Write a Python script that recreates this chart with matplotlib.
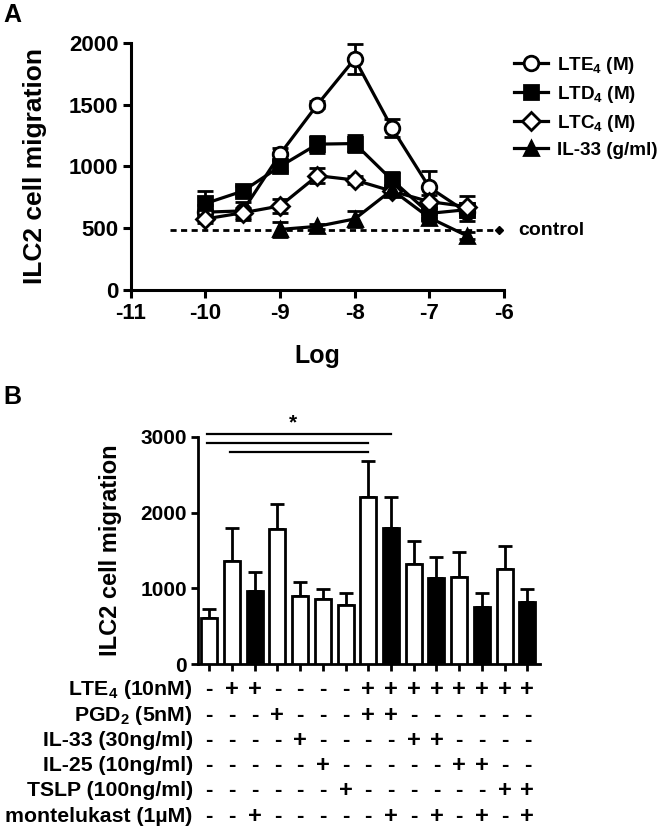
import matplotlib
matplotlib.use("Agg")
import matplotlib.pyplot as plt
import matplotlib.transforms as mtransforms
from matplotlib.lines import Line2D
import numpy as np

plt.rcParams['font.family'] = ['Liberation Sans', 'DejaVu Sans']
plt.rcParams['font.weight'] = 'bold'
plt.rcParams['mathtext.fontset'] = 'custom'
plt.rcParams['mathtext.rm'] = 'Liberation Sans:bold'
plt.rcParams['mathtext.it'] = 'Liberation Sans:bold'
plt.rcParams['mathtext.bf'] = 'Liberation Sans:bold'

# ---- panel A: dose response ----
log_conc = [-10, -9.5, -9, -8.5, -8, -7.5, -7, -6.5]
lte4_mean = [630, 640, 1100, 1500, 1870, 1310, 830, 630]
lte4_sem = [60, 75, 50, 30, 120, 75, 135, 70]
ltd4_mean = [700, 800, 1000, 1180, 1185, 890, 620, 650]
ltd4_sem = [100, 40, 40, 70, 70, 65, 40, 40]
ltc4_mean = [575, 625, 680, 925, 890, 800, 715, 675]
ltc4_sem = [30, 40, 55, 60, 30, 40, 50, 85]
il33_conc = [-9, -8.5, -8, -7.5, -7, -6.5]
il33_mean = [490, 515, 575, 810, 585, 440]
il33_sem = [60, 20, 65, 40, 30, 30]
control_level = 485
control_span = [-10.48, -6.06]

# ---- panel B: bars + condition table ----
bar_mean = [606, 1361, 970, 1783, 900, 856, 777, 2204, 1792, 1318, 1141, 1154, 759, 1260, 817]
bar_sem = [127, 439, 242, 325, 180, 140, 158, 479, 408, 310, 269, 322, 184, 299, 179]
row_labels = ['LTE$_4$ (10nM)', 'PGD$_2$ (5nM)', 'IL-33 (30ng/ml)',
              'IL-25 (10ng/ml)', 'TSLP (100ng/ml)', 'montelukast (1µM)']
row_signs = ['-++----++++++++',
             '---+---++------',
             '----+----++----',
             '-----+-----++--',
             '------+------++',
             '--+-----+-+-+-+']
sig_pairs = [(0, 8), (0, 7), (1, 7)]
sig_heights = [3030, 2920, 2800]

fig = plt.figure(figsize=(6.64, 8.31), dpi=100)

# panel A
axA = fig.add_axes([0.197, 0.651, 0.562, 0.2975])
series = [
    (log_conc, lte4_mean, lte4_sem, 'o', 'white', 10.5, r'LTE$_4$ (M)'),
    (log_conc, ltd4_mean, ltd4_sem, 's', 'black', 9.5, r'LTD$_4$ (M)'),
    (log_conc, ltc4_mean, ltc4_sem, 'D', 'white', 9.5, r'LTC$_4$ (M)'),
    (il33_conc, il33_mean, il33_sem, '^', 'black', 10.5, 'IL-33 (g/ml)'),
]
handles = []
for i, (x, y, e, m, fc, ms, lab) in enumerate(series):
    axA.errorbar(x, y, yerr=e, fmt='none', ecolor='black', elinewidth=2,
                 capsize=5.5, capthick=2, zorder=2 + i)
    axA.plot(x, y, color='black', lw=2.3, marker=m, ms=ms, mfc=fc,
             mec='black', mew=2, zorder=3 + i)
    handles.append(Line2D([], [], color='black', lw=2.3, marker=m, ms=ms,
                          mfc=fc, mec='black', mew=2, label=lab))

axA.plot(control_span, [control_level, control_level], color='black', lw=2,
         ls=(0, (2.2, 1.6)), zorder=1, clip_on=False)
axA.plot([control_span[1]], [control_level], marker='D', color='black', ms=4,
         clip_on=False)
axA.text(control_span[1] + 0.25, control_level, 'control', fontsize=14,
         va='center', ha='left')

axA.set_xlim(-11, -6)
axA.set_ylim(0, 2000)
axA.set_xticks([-11, -10, -9, -8, -7, -6])
axA.set_yticks([0, 500, 1000, 1500, 2000])
axA.set_xticklabels(['-11', '-10', '-9', '-8', '-7', '-6'])
for s in ['top', 'right']:
    axA.spines[s].set_visible(False)
for s in ['left', 'bottom']:
    axA.spines[s].set_linewidth(2.2)
axA.tick_params(width=2.2, length=6, labelsize=16, pad=3)
axA.set_xlabel('Log', fontsize=18, fontweight='bold', labelpad=15)
axA.set_ylabel('ILC2 cell migration', fontsize=19, fontweight='bold', labelpad=16)

fig.legend(handles=handles, loc='upper left', bbox_to_anchor=(0.774, 0.934),
           frameon=False, fontsize=13.6, handlelength=1.8, handletextpad=0.5,
           labelspacing=0.42, borderpad=0, borderaxespad=0)

fig.text(0.005, 0.996, 'A', fontsize=18, fontweight='bold', va='top')
fig.text(0.005, 0.537, 'B', fontsize=18, fontweight='bold', va='top')

# panel B
axB = fig.add_axes([0.298, 0.2006, 0.515, 0.2739])
xpos = np.arange(len(bar_mean))
bar_fill = ['black' if c == '+' else 'white' for c in row_signs[-1]]
axB.bar(xpos, bar_mean, width=0.7, color=bar_fill, edgecolor='black',
        linewidth=2, zorder=3)
axB.errorbar(xpos, bar_mean, yerr=[np.zeros(len(bar_sem)), bar_sem],
             fmt='none', ecolor='black', elinewidth=2, capsize=5, capthick=2,
             zorder=2)
axB.set_xlim(-0.5, 14.55)
axB.set_ylim(0, 3000)
axB.set_yticks([0, 1000, 2000, 3000])
axB.set_xticks(xpos)
axB.set_xticklabels([])
for s in ['top', 'right']:
    axB.spines[s].set_visible(False)
for s in ['left', 'bottom']:
    axB.spines[s].set_linewidth(2)
axB.tick_params(width=2, length=5, labelsize=15, pad=3)
axB.set_ylabel('ILC2 cell migration', fontsize=17, fontweight='bold', labelpad=13)

for (a, b), h in zip(sig_pairs, sig_heights):
    axB.plot([a - 0.1, b], [h, h], color='black', lw=1.6, clip_on=False)
axB.text(3.7, 3060, '*', fontsize=15, ha='center', va='bottom')

trans = mtransforms.blended_transform_factory(axB.transData, axB.transAxes)
row_y = [-0.112, -0.224, -0.336, -0.446, -0.556, -0.667]
for lab, signs, yy in zip(row_labels, row_signs, row_y):
    axB.text(-0.015, yy, lab, transform=axB.transAxes, ha='right',
             va='center', fontsize=15.3)
    for j, c in enumerate(signs):
        axB.text(xpos[j], yy, c, transform=trans, ha='center', va='center',
                 fontsize=17 if c == '+' else 16)

fig.savefig('out.png', dpi=100)
